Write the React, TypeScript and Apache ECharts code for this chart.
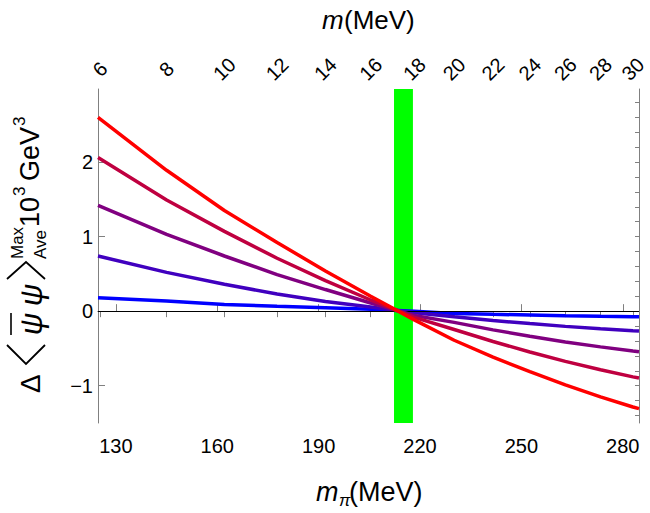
import React, { useEffect, useRef } from "react";
import * as echarts from "echarts";

// bottom axis: m_pi (MeV)
const xMin = 124.7;
const xMax = 284.8;
const mPiTicks = [130, 160, 190, 220, 250, 280];
// top axis: m (MeV) and the m_pi positions where those ticks sit
const mTicks = [6, 8, 10, 12, 14, 16, 18, 20, 22, 24, 26, 28, 30];
const mTickPos = [125.3, 145.0, 162.1, 177.7, 192.0, 205.4, 218.3, 230.1, 241.6, 252.5, 263.0, 273.4, 283.0];
// y axis
const yMin = -1.5;
const yMax = 2.98;
const yTicks = [-1, 0, 1, 2];
const yMinorTicks = [-1.4, -1.2, -1.0, -0.8, -0.6, -0.4, -0.2, 0, 0.2, 0.4, 0.6, 0.8, 1.0, 1.2, 1.4, 1.6, 1.8, 2.0, 2.2, 2.4, 2.6, 2.8];
// green band (m_pi range)
const bandRange = [212.3, 217.9];

// curve samples
const sampleMpi = [124.7, 145.0, 162.1, 177.7, 192.0, 205.4, 218.3, 230.1, 241.6, 252.5, 263.0, 273.4, 283.0, 284.8];
const curveBlue = [0.18, 0.135, 0.09, 0.065, 0.045, 0.025, 0.0, -0.03, -0.042, -0.052, -0.061, -0.069, -0.075, -0.076];
const curveIndigo = [0.74, 0.52, 0.36, 0.23, 0.13, 0.055, -0.02, -0.076, -0.125, -0.166, -0.204, -0.236, -0.262, -0.266];
const curvePurple = [1.42, 1.03, 0.74, 0.49, 0.29, 0.11, -0.057, -0.15, -0.251, -0.337, -0.413, -0.479, -0.535, -0.544];
const curveCrimson = [2.06, 1.49, 1.07, 0.71, 0.41, 0.15, -0.083, -0.246, -0.407, -0.548, -0.673, -0.786, -0.881, -0.897];
const curveRed = [2.60, 1.89, 1.35, 0.92, 0.54, 0.20, -0.117, -0.39, -0.616, -0.812, -0.989, -1.149, -1.285, -1.308];

const curves = [
  { name: "c1", color: "#0000ff", values: curveBlue },
  { name: "c2", color: "#4000bf", values: curveIndigo },
  { name: "c3", color: "#800080", values: curvePurple },
  { name: "c4", color: "#bf0040", values: curveCrimson },
  { name: "c5", color: "#ff0000", values: curveRed },
];

const FONT = "'Liberation Sans', Arial, Helvetica, sans-serif";
const FRAME = "#808080";

export default function App() {
  const ref = useRef<HTMLDivElement>(null);
  useEffect(() => {
    if (!ref.current) return;
    const chart = echarts.init(ref.current, undefined, { renderer: "svg" });

    const mainTxt = (text: string, lx: number, ly: number, size: number, extra: any = {}) => ({
      type: "text",
      style: {
        text,
        x: lx,
        y: ly,
        fontSize: size,
        fontFamily: FONT,
        fill: "#000",
        textAlign: "left",
        verticalAlign: "middle",
        ...extra,
      },
    });

    const option: any = {
      animation: false,
      backgroundColor: "#ffffff",
      grid: { left: 98, right: 11, top: 89, bottom: 90 },
      xAxis: [
        {
          type: "value",
          position: "bottom",
          min: xMin,
          max: xMax,
          axisLine: { show: true, lineStyle: { color: FRAME, width: 1 } },
          axisTick: { show: true, inside: true, length: 7, customValues: mPiTicks, lineStyle: { color: FRAME } },
          axisLabel: { customValues: mPiTicks, fontSize: 20, color: "#000", margin: 13, fontFamily: FONT },
          splitLine: { show: false },
        },
        {
          type: "value",
          position: "top",
          min: xMin,
          max: xMax,
          axisLine: { show: true, lineStyle: { color: FRAME, width: 1 } },
          axisTick: { show: true, inside: true, length: 6, customValues: mTickPos, lineStyle: { color: FRAME } },
          axisLabel: {
            customValues: mTickPos,
            rotate: 45,
            align: "center",
            verticalAlign: "middle",
            margin: 20,
            fontSize: 20,
            color: "#000",
            fontFamily: FONT,
            formatter: (v: number) => {
              let best = 0;
              for (let i = 0; i < mTickPos.length; i++) {
                if (Math.abs(mTickPos[i] - v) < Math.abs(mTickPos[best] - v)) best = i;
              }
              return String(mTicks[best]);
            },
          },
          splitLine: { show: false },
        },
      ],
      yAxis: [
        {
          type: "value",
          position: "left",
          min: yMin,
          max: yMax,
          axisLine: { show: true, lineStyle: { color: FRAME, width: 1 } },
          axisTick: { show: true, inside: true, length: 7, customValues: yTicks, lineStyle: { color: FRAME } },
          axisLabel: {
            customValues: yTicks,
            fontSize: 20,
            color: "#000",
            margin: 5,
            fontFamily: FONT,
            formatter: (v: number) => (v < 0 ? "\u2212" + Math.abs(v) : String(v)),
          },
          splitLine: { show: false },
        },
        {
          type: "value",
          position: "right",
          min: yMin,
          max: yMax,
          axisLine: { show: true, lineStyle: { color: FRAME, width: 1 } },
          axisTick: { show: true, inside: true, length: 4, customValues: yMinorTicks, lineStyle: { color: FRAME } },
          axisLabel: { show: false },
          splitLine: { show: false },
        },
      ],
      series: [
        {
          type: "line",
          name: "band",
          xAxisIndex: 0,
          yAxisIndex: 0,
          data: [],
          z: 1,
          silent: true,
          markArea: {
            silent: true,
            itemStyle: { color: "#00ff00", opacity: 1 },
            data: [[{ xAxis: bandRange[0] }, { xAxis: bandRange[1] }]],
          },
          markLine: {
            silent: true,
            symbol: "none",
            label: { show: false },
            lineStyle: { color: "#000", width: 1, type: "solid" },
            data: [{ yAxis: 0 }],
          },
        },
        ...curves.map((c, i) => ({
          type: "line",
          name: c.name,
          xAxisIndex: 0,
          yAxisIndex: 0,
          z: 3 + i,
          showSymbol: false,
          symbol: "none",
          smooth: false,
          lineStyle: { color: c.color, width: 3.5 },
          itemStyle: { color: c.color },
          data: sampleMpi.map((x, j) => [x, c.values[j]]),
        })),
      ],
      graphic: [
        {
          type: "group",
          x: 30,
          y: 395,
          rotation: Math.PI / 2,
          children: [
            mainTxt("\u0394", 2, 0, 28),
            {
              type: "polyline",
              shape: { points: [[50, -23], [31, -4], [50, 15]] },
              style: { stroke: "#000", lineWidth: 1.8, fill: null },
            },
            mainTxt("\u03C8", 71, 1, 31, { textAlign: "center", fontStyle: "italic" }),
            {
              type: "line",
              shape: { x1: 60, y1: -19, x2: 82, y2: -19 },
              style: { stroke: "#000", lineWidth: 1.6 },
            },
            mainTxt("\u03C8", 100, 1, 31, { textAlign: "center", fontStyle: "italic" }),
            {
              type: "polyline",
              shape: { points: [[116, -23], [133, -4], [116, 15]] },
              style: { stroke: "#000", lineWidth: 1.8, fill: null },
            },
            mainTxt("Max", 136, -13, 17),
            mainTxt("Ave", 136, 10, 17),
            mainTxt("10", 168, 0, 27),
            mainTxt("3", 199, -11, 17),
            mainTxt("GeV", 214, 0, 27),
            mainTxt("3", 269, -11, 17),
          ],
        },
        {
          type: "group",
          x: 370,
          y: 20,
          children: [
            mainTxt("m", -48, 0, 26, { fontStyle: "italic" }),
            mainTxt("(MeV)", -26, 0, 26),
          ],
        },
        {
          type: "group",
          x: 370,
          y: 492,
          children: [
            mainTxt("m", -54, 0, 27, { fontStyle: "italic" }),
            mainTxt("\u03C0", -31, 8, 17, { fontStyle: "italic" }),
            mainTxt("(MeV)", -21, 0, 27),
          ],
        },
      ],
    };
    chart.setOption(option);
    return () => chart.dispose();
  }, []);
  return (
    <div
      ref={ref}
      style={{ position: "fixed", left: 0, top: 0, width: 650, height: 513, background: "#fff" }}
    />
  );
}
